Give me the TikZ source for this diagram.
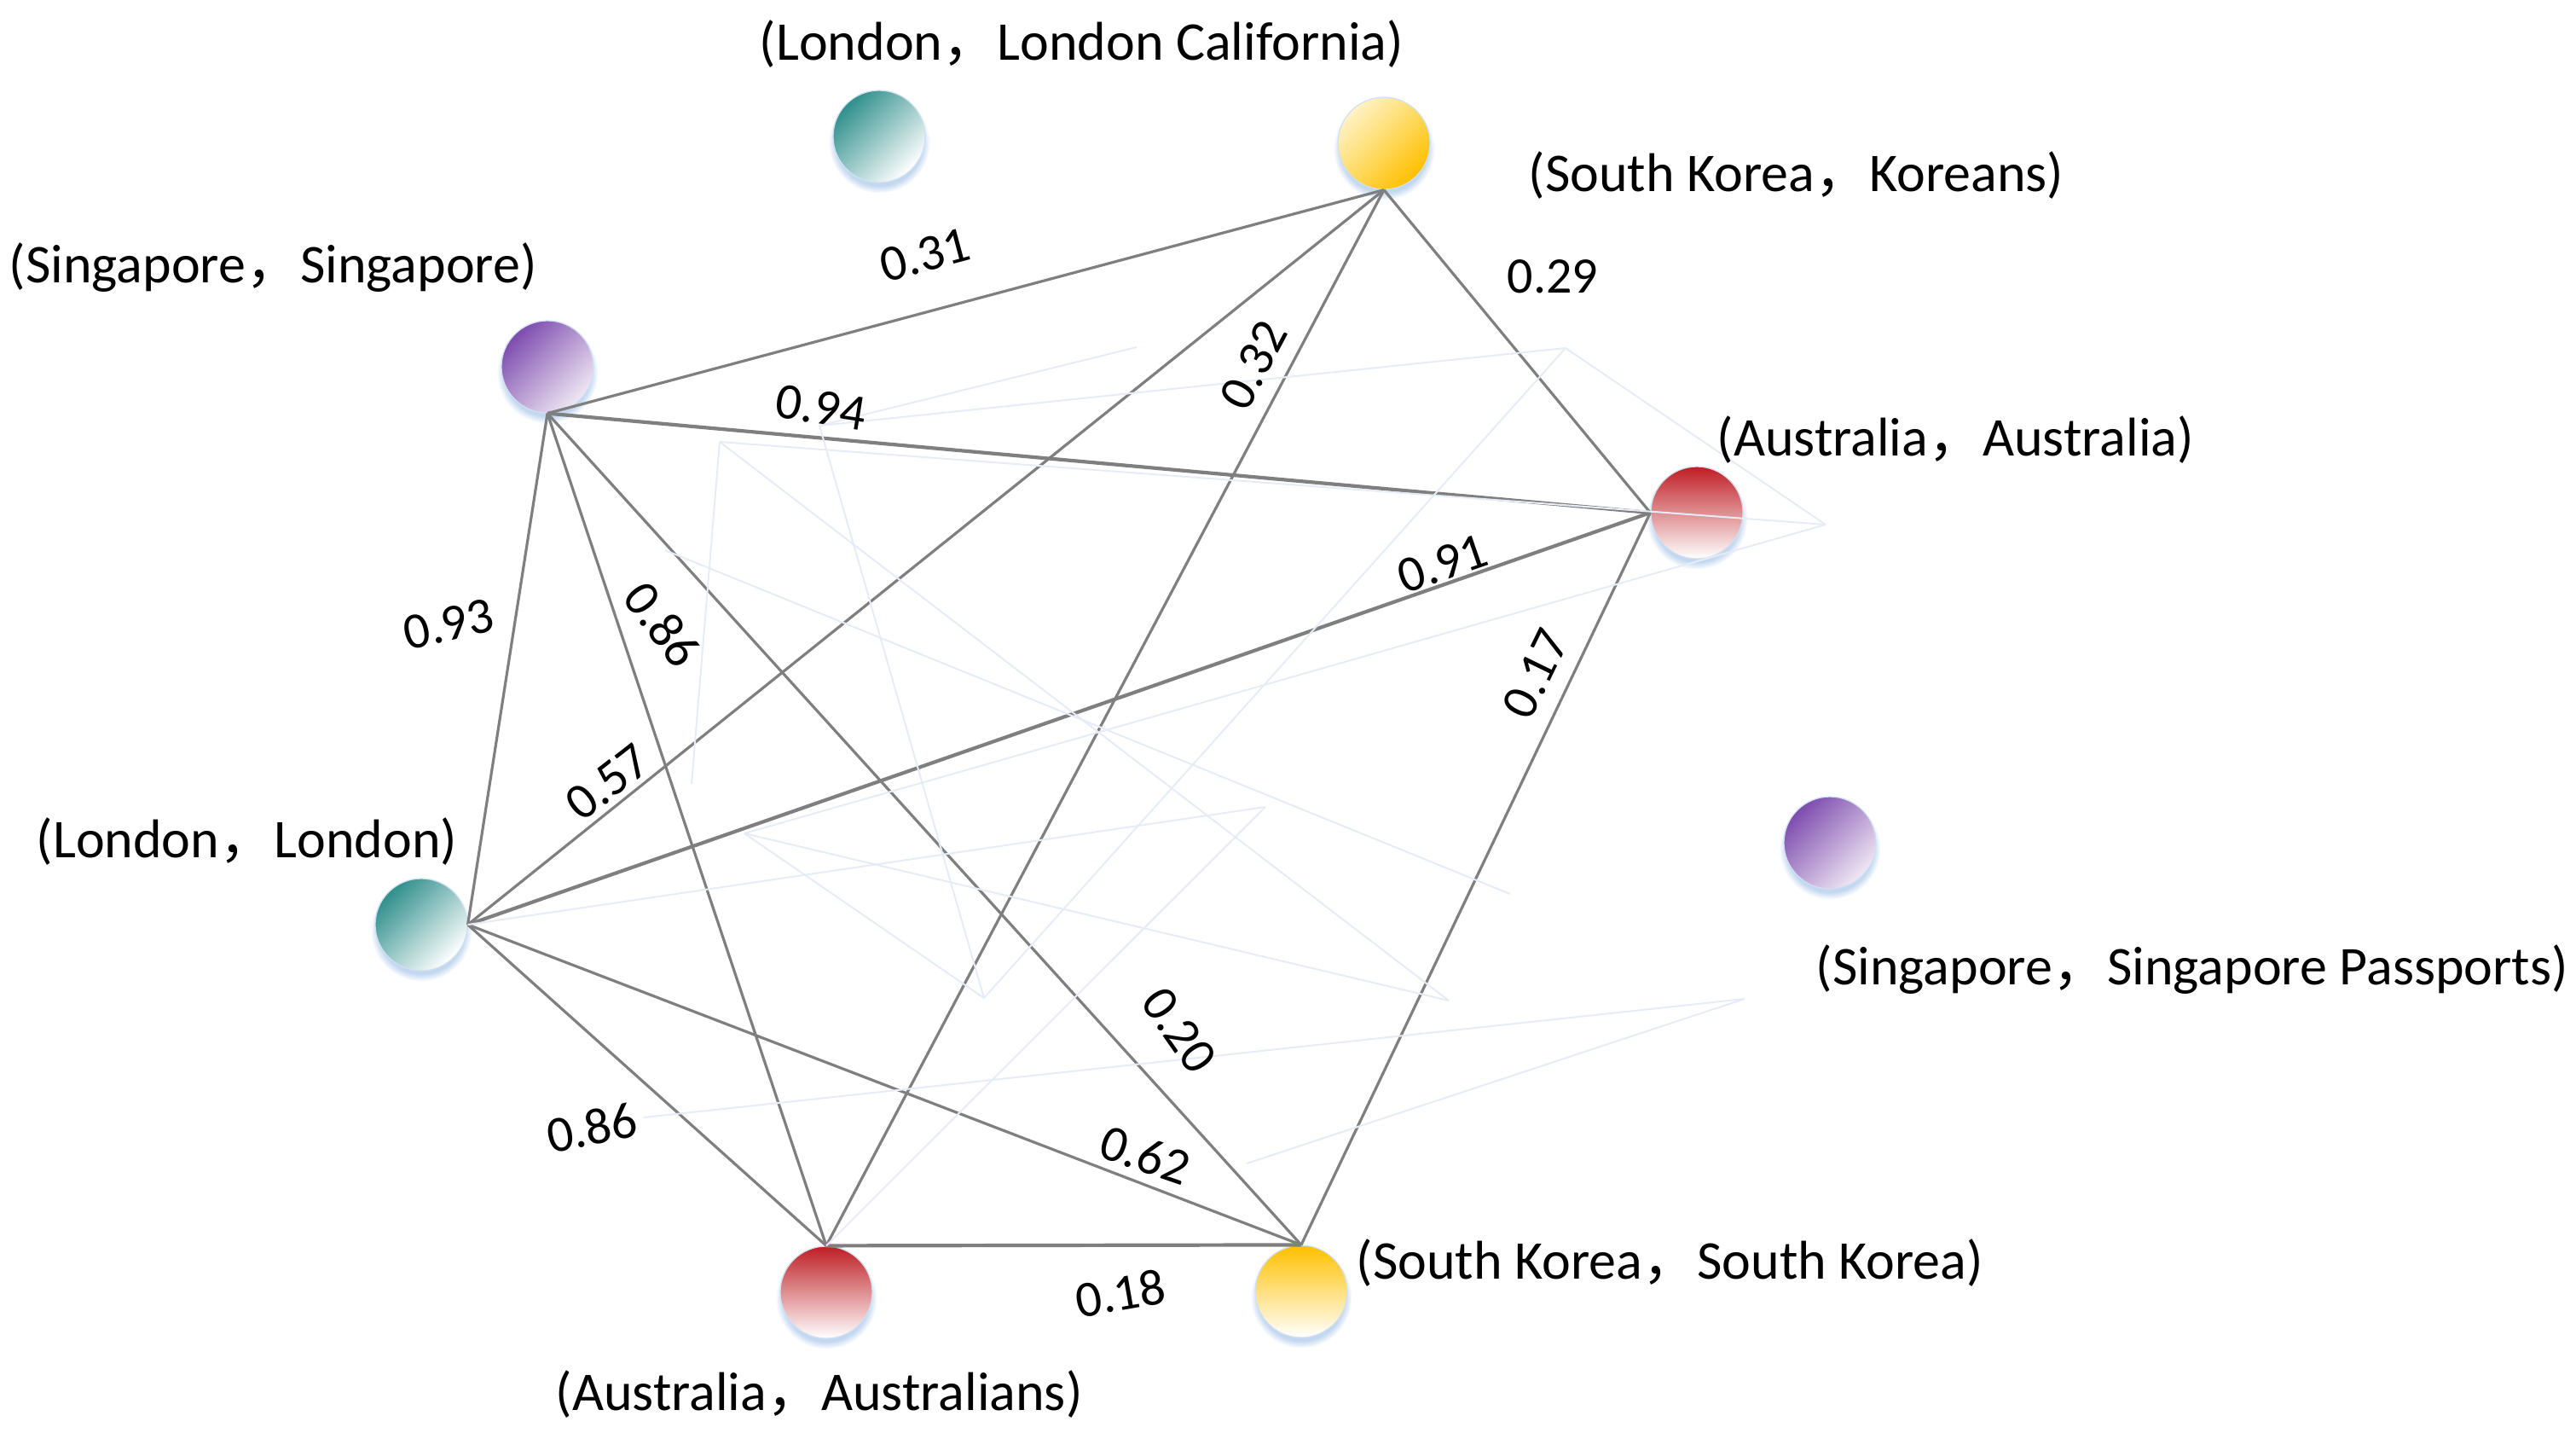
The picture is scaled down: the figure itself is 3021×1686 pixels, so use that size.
\documentclass[tikz,border=0pt]{standalone}
\usepackage{fontspec}
\setmainfont{Carlito}
\newfontfamily\cjkfont{Noto Sans CJK SC}
\usetikzlibrary{shadows,fadings}
\newcommand{\fwc}{{\cjkfont ，}}
\definecolor{edgegray}{HTML}{7F7F7F}
\definecolor{ghost}{HTML}{E6ECF6}
\definecolor{glow}{HTML}{BCD3EE}
\definecolor{tealD}{HTML}{2F8F8C}
\definecolor{purpD}{HTML}{7D4BAE}
\definecolor{purpL}{HTML}{F0E8F4}
\definecolor{yelD}{HTML}{FFC000}
\definecolor{yelL}{HTML}{FFF3C6}
\definecolor{redD}{HTML}{BE1E24}
\tikzset{
  ball/.style={circle, inner sep=0pt, minimum size=27pt, draw=glow!70, line width=0.3pt,
    circular drop shadow={shadow xshift=0pt, shadow yshift=-1.6pt, shadow scale=1.1, fill=glow, opacity=0.9}},
  tealball/.style={ball, top color=tealD, bottom color=white, shading angle=45},
  purpball/.style={ball, top color=purpD, bottom color=purpL, shading angle=45},
  yelballA/.style={ball, top color=yelL, bottom color=yelD, shading angle=45},
  yelballB/.style={ball, top color=yelD, bottom color=white},
  redball/.style={ball, top color=redD, bottom color=white},
  plabel/.style={anchor=west, inner sep=0pt, font=\fontsize{16pt}{19pt}\selectfont},
  wlabel/.style={inner sep=0pt, font=\fontsize{15pt}{18pt}\selectfont},
  edge/.style={draw=edgegray, line width=0.8pt},
  heavyedge/.style={draw=edgegray, line width=1.05pt},
  ghostline/.style={draw=ghost, line width=0.5pt}
}
\begin{document}
\begin{tikzpicture}[x=0.25pt,y=-0.25pt]
\useasboundingbox (0,0) rectangle (3021,1686);

% balls
\node[tealball] (lc) at (1031,160) {};
\node[yelballA] (kor) at (1623,168) {};
\node[purpball] (sing) at (642,430) {};
\node[redball] (aus) at (1990,601) {};
\node[tealball] (lon) at (494,1084) {};
\node[purpball] (sp) at (2146,988) {};
\node[redball] (aul) at (969,1515) {};
\node[yelballB] (sk) at (1526,1514) {};

% edges
\draw[edge] (sing.south) -- (kor.south);
\draw[heavyedge] (sing.south) -- (aus.west);
\draw[edge] (sing.south) -- (lon.east);
\draw[edge] (sing.south) -- (aul.north);
\draw[edge] (sing.south) -- (sk.north);
\draw[edge] (kor.south) -- (aus.west);
\draw[edge] (kor.south) -- (lon.east);
\draw[edge] (kor.south) -- (aul.north);
\draw[heavyedge] (lon.east) -- (aus.west);
\draw[edge] (aus.west) -- (sk.north);
\draw[edge] (lon.east) -- (aul.north);
\draw[edge] (lon.east) -- (sk.north);
\draw[heavyedge] (aul.north) -- (sk.north);

% faint ghost lines
\coordinate (gA) at (844,518);
\coordinate (gX) at (961,499);
\coordinate (gB) at (1333,407);
\coordinate (gC) at (1836,408);
\coordinate (gD) at (2141,615);
\coordinate (gG) at (811,919);
\coordinate (gP) at (1154,1170);
\coordinate (gQ) at (873,977);
\coordinate (gT) at (1699,1173);
\coordinate (gR) at (1484,946);
\coordinate (gE) at (2046,1171);
\coordinate (gF) at (1462,1364);
\coordinate (gS) at (755,1310);
\coordinate (gU) at (780,645);
\coordinate (gV) at (1771,1048);
\draw[ghostline] (gA) -- (gD);
\draw[ghostline] (gA) -- (gG);
\draw[ghostline] (gA) -- (gT);
\draw[ghostline] (gX) -- (gB);
\draw[ghostline] (gX) -- (gC);
\draw[ghostline] (gX) -- (gP);
\draw[ghostline] (gC) -- (gD);
\draw[ghostline] (gC) -- (gP);
\draw[ghostline] (gP) -- (gQ);
\draw[ghostline] (gQ) -- (gD);
\draw[ghostline] (gQ) -- (gT);
\draw[ghostline] (gU) -- (gV);
\draw[ghostline] (lon.east) -- (gR);
\draw[ghostline] (gR) -- (aul.north);
\draw[ghostline] (gE) -- (gS);
\draw[ghostline] (gE) -- (gF);

% node labels
\node[plabel] (tlc) at (890,52) {(London\fwc London California)};
\node[plabel] (tkor) at (1792,206) {(South Korea\fwc Koreans)};
\node[plabel] (tsing) at (10,314) {(Singapore\fwc Singapore)};
\node[plabel] (taus) at (2013,516) {(Australia\fwc Australia)};
\node[plabel] (tlon) at (42,986) {(London\fwc London)};
\node[plabel] (tsp) at (2129,1137) {(Singapore\fwc Singapore Passports)};
\node[plabel] (tsk) at (1590,1480) {(South Korea\fwc South Korea)};
\node[plabel] (taul) at (651,1634) {(Australia\fwc Australians)};

% weight labels
\node[wlabel, rotate=15] (w31) at (1085,299) {0.31};
\node[wlabel, rotate=-9] (w94) at (963,478) {0.94};
\node[wlabel, rotate=13] (w93) at (526,732) {0.93};
\node[wlabel, rotate=-53] (w86a) at (777,732) {0.86};
\node[wlabel, rotate=38] (w57) at (713,917) {0.57};
\node[wlabel, rotate=62] (w32) at (1470,428) {0.32};
\node[wlabel] (w29) at (1821,324) {0.29};
\node[wlabel, rotate=19] (w91) at (1692,661) {0.91};
\node[wlabel, rotate=64] (w17) at (1801,790) {0.17};
\node[wlabel, rotate=-55] (w20) at (1383,1208) {0.20};
\node[wlabel, rotate=12] (w86b) at (694,1322) {0.86};
\node[wlabel, rotate=-19] (w62) at (1343,1354) {0.62};
\node[wlabel, rotate=10] (w18) at (1314,1516) {0.18};
\end{tikzpicture}
\end{document}
